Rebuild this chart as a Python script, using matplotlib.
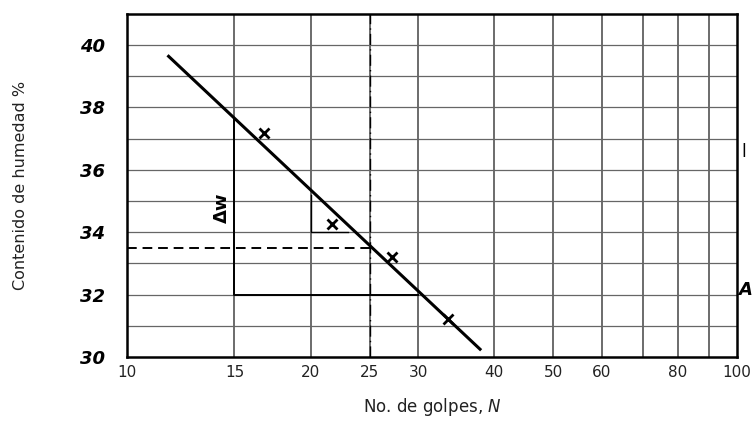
import numpy as np
import matplotlib.pyplot as plt

# flow curve data
golpes = [16.8, 21.7, 27.2, 33.6]
humedad = [37.18, 34.27, 33.22, 31.23]
linea_n = [11.7, 37.9]
linea_w = [39.64, 30.25]

xgrid = [15, 20, 25, 30, 40, 50, 60, 70, 80, 90]
ygrid = [31, 32, 33, 34, 35, 36, 37, 38, 39, 40]
xticks = [10, 15, 20, 25, 30, 40, 50, 60, 80, 100]
yticks = [30, 32, 34, 36, 38, 40]

# construction lines
tri_grande_n = [15, 15, 30]
tri_grande_w = [37.66, 32.0, 32.0]
tri_chico_n = [20, 20, 23.0]
tri_chico_w = [35.2, 34.0, 34.0]
ll_n = 25
ll_w = 33.5

fig = plt.figure(figsize=(7.56, 4.21), dpi=100)
ax = fig.add_axes([0.168, 0.152, 0.807, 0.815])
ax.set_xscale('log')
ax.set_xlim(10, 100)
ax.set_ylim(30, 41)

for x in xgrid:
    ax.axvline(x, color='#444444', lw=1.1, zorder=1)
for y in ygrid:
    ax.axhline(y, color='#666666', lw=0.9, zorder=1)

ax.plot(linea_n, linea_w, color='black', lw=2.2, zorder=4)
ax.plot(golpes, humedad, 'x', color='black', ms=7, mew=2, zorder=5)

ax.plot(tri_grande_n, tri_grande_w, color='black', lw=1.4, zorder=3)
ax.plot(tri_chico_n, tri_chico_w, color='black', lw=1.0, zorder=3)
ax.plot([ll_n, ll_n], [30, 41], color='black', lw=1.0, ls=(0, (8, 3, 1, 3)), zorder=3)
ax.plot([10, ll_n], [ll_w, ll_w], color='black', lw=1.4, ls=(0, (5, 3)), zorder=3)

ax.text(14.3, 34.8, '\u0394w', rotation=90, fontsize=13, fontweight='bold',
        ha='center', va='center', zorder=6)

ax.set_xticks(xticks)
ax.set_xticklabels([str(v) for v in xticks], fontsize=11, color='#222222')
ax.minorticks_off()
ax.set_yticks(yticks)
ax.set_yticklabels([str(v) for v in yticks], fontsize=13, fontweight='bold',
                   fontstyle='italic')
ax.tick_params(axis='both', length=0)
ax.tick_params(axis='y', pad=16)
ax.tick_params(axis='x', pad=6)

for s in ax.spines.values():
    s.set_linewidth(1.8)

ax.set_xlabel('No. de golpes, $\\mathit{N}$', fontsize=12, color='#222222', labelpad=11)
ax.set_ylabel('Contenido de humedad %', fontsize=11.5, color='#222222')
ax.yaxis.set_label_coords(-0.163, 0.5)

fig.text(0.981, 0.64, 'l', fontsize=12, ha='left', va='center')
fig.text(0.976, 0.31, 'A', fontsize=13, fontstyle='italic', fontweight='bold',
         ha='left', va='center')

fig.savefig('out.png', dpi=100)
